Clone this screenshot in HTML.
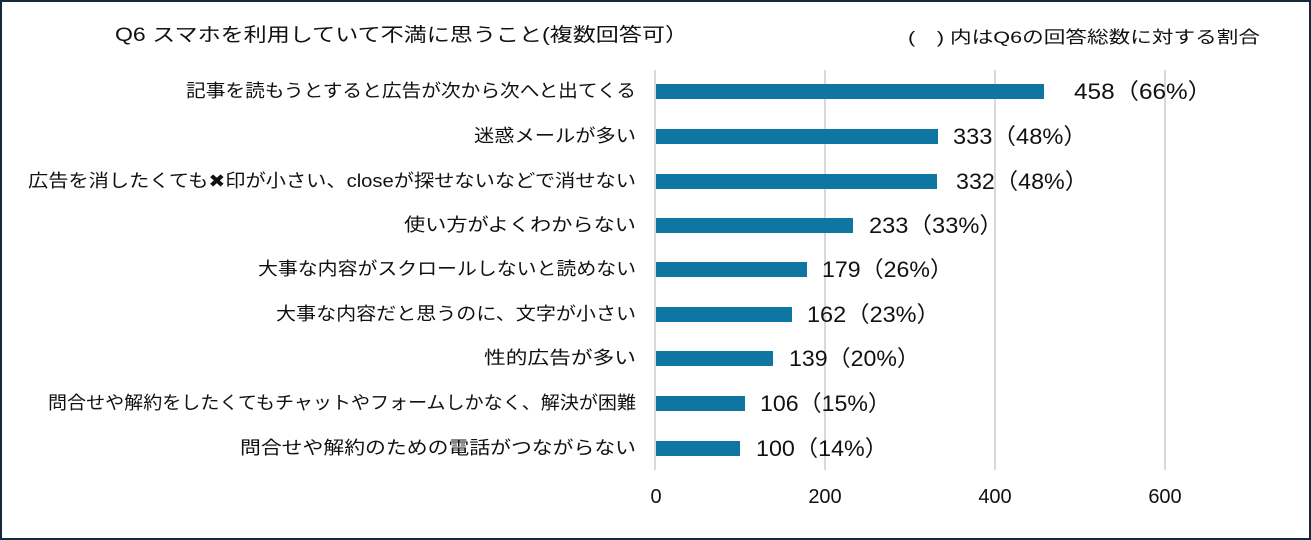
<!DOCTYPE html><html><head><meta charset="utf-8"><style>
html,body{margin:0;padding:0;background:#fff}
svg{display:block}
text{font-family:"Liberation Sans","Noto Sans CJK JP",sans-serif;fill:#111}
</style></head><body>
<svg width="1311" height="540" viewBox="0 0 1311 540">
<rect x="1" y="1" width="1309" height="538" fill="#fff" stroke="#17293d" stroke-width="2"/>
<text x="115" y="41" font-size="19" textLength="573" lengthAdjust="spacingAndGlyphs">Q6  スマホを利用していて不満に思うこと(複数回答可）</text>
<text x="908" y="43" font-size="17" textLength="352" lengthAdjust="spacingAndGlyphs">(　) 内はQ6の回答総数に対する割合</text>
<g stroke="#d9d9d9" stroke-width="2">
<line x1="655" y1="70" x2="655" y2="470"/><line x1="825" y1="70" x2="825" y2="470"/>
<line x1="995" y1="70" x2="995" y2="470"/><line x1="1165" y1="70" x2="1165" y2="470"/>
</g>
<g fill="#0e76a0">
<rect x="656" y="84" width="388" height="15"/>
<rect x="656" y="129" width="282" height="15"/>
<rect x="656" y="174" width="281" height="15"/>
<rect x="656" y="218" width="197" height="15"/>
<rect x="656" y="262" width="151" height="15"/>
<rect x="656" y="307" width="136" height="15"/>
<rect x="656" y="351" width="117" height="15"/>
<rect x="656" y="396" width="89" height="15"/>
<rect x="656" y="441" width="84" height="15"/>
</g>
<g font-size="18" lengthAdjust="spacingAndGlyphs">
<text x="186" y="97" textLength="450" lengthAdjust="spacingAndGlyphs">記事を読もうとすると広告が次から次へと出てくる</text>
<text x="474" y="142" textLength="162" lengthAdjust="spacingAndGlyphs">迷惑メールが多い</text>
<text x="28" y="187" textLength="608" lengthAdjust="spacingAndGlyphs">広告を消したくても✖印が小さい、closeが探せないなどで消せない</text>
<text x="404" y="231" textLength="232" lengthAdjust="spacingAndGlyphs">使い方がよくわからない</text>
<text x="258" y="275" textLength="378" lengthAdjust="spacingAndGlyphs">大事な内容がスクロールしないと読めない</text>
<text x="276" y="320" textLength="360" lengthAdjust="spacingAndGlyphs">大事な内容だと思うのに、文字が小さい</text>
<text x="484" y="364" textLength="152" lengthAdjust="spacingAndGlyphs">性的広告が多い</text>
<text x="48" y="409" textLength="588" lengthAdjust="spacingAndGlyphs">問合せや解約をしたくてもチャットやフォームしかなく、解決が困難</text>
<text x="240" y="454" textLength="396" lengthAdjust="spacingAndGlyphs">問合せや解約のための電話がつながらない</text>
</g>
<g font-size="22">
<text x="1074" y="99" textLength="138" lengthAdjust="spacingAndGlyphs">458（66%）</text>
<text x="953" y="144" textLength="134" lengthAdjust="spacingAndGlyphs">333（48%）</text>
<text x="956" y="189" textLength="132" lengthAdjust="spacingAndGlyphs">332（48%）</text>
<text x="869" y="233" textLength="134" lengthAdjust="spacingAndGlyphs">233（33%）</text>
<text x="822" y="277" textLength="131" lengthAdjust="spacingAndGlyphs">179（26%）</text>
<text x="807" y="322" textLength="133" lengthAdjust="spacingAndGlyphs">162（23%）</text>
<text x="789" y="366" textLength="131" lengthAdjust="spacingAndGlyphs">139（20%）</text>
<text x="760" y="411" textLength="131" lengthAdjust="spacingAndGlyphs">106（15%）</text>
<text x="756" y="456" textLength="132" lengthAdjust="spacingAndGlyphs">100（14%）</text>
</g>
<g font-size="20" text-anchor="middle">
<text x="656" y="503">0</text><text x="825" y="503">200</text>
<text x="995" y="503">400</text><text x="1165" y="503">600</text>
</g>
</svg>
</body></html>
